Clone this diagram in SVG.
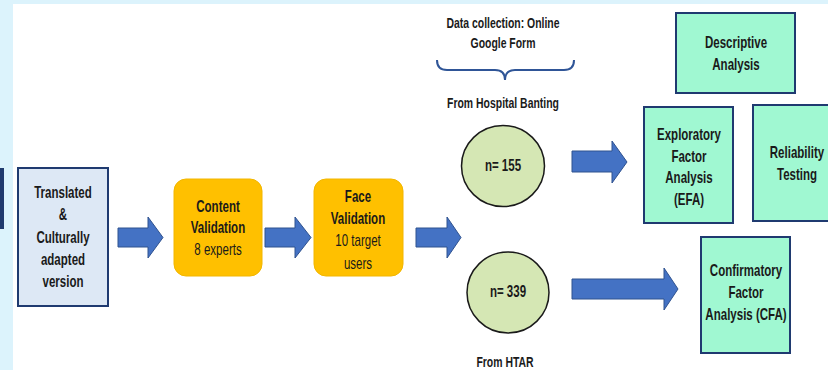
<svg xmlns="http://www.w3.org/2000/svg" width="828" height="370" viewBox="0 0 828 370">
<style>
text{font-family:"Liberation Sans",Arial,sans-serif;font-weight:bold;fill:#1a1a1a;text-anchor:middle;font-size:16px}
.lbl{font-size:14.5px}
.reg{font-weight:normal}
.blk{fill:#4472c4;stroke:#2f528f;stroke-width:1}
.ora{fill:#ffc000;stroke:#f2b600;stroke-width:1}
.mint{fill:#a0f8d2;stroke:#1f3a70;stroke-width:2}
.circ{fill:#d5e7b4;stroke:#1a1a1a;stroke-width:1.5}
</style>
<rect x="0" y="0" width="828" height="370" fill="#dcf3fc"/>
<rect x="13" y="4" width="815" height="366" fill="#ffffff"/>
<rect x="0" y="168" width="4" height="61" fill="#1f3b6e"/>

<g id="connectors">
<polygon class="blk" points="118,228 148,228 148,217 163,237.5 148,258 148,247 118,247"/>
<polygon class="blk" points="265,228 295,228 295,217 311,237.5 295,258 295,247 265,247"/>
<polygon class="blk" points="416,228 447,228 447,217 461,237.5 447,258 447,247 416,247"/>
<polygon class="blk" points="572,151 612,151 612,141 627,162 612,183 612,172 572,172"/>
<polygon class="blk" points="572,279 664,279 664,268 678,289 664,310 664,299 572,299"/>
<path d="M437,60 Q437,70 447,70 L495,70 Q505,70 505,80 Q505,70 515,70 L564,70 Q574,70 574,60" fill="none" stroke="#2f5597" stroke-width="2"/>
</g>

<g id="translated">
<rect x="18" y="168" width="90" height="138" fill="#dde8f5" stroke="#1f3a70" stroke-width="2"/>
<text transform="translate(63,198) scale(0.72,1)">Translated</text>
<text transform="translate(63,220) scale(0.72,1)">&amp;</text>
<text transform="translate(63,243) scale(0.72,1)">Culturally</text>
<text transform="translate(63,265) scale(0.72,1)">adapted</text>
<text transform="translate(63,287) scale(0.72,1)">version</text>
</g>

<g id="content">
<rect class="ora" x="174" y="179" width="88" height="97" rx="12"/>
<text transform="translate(218,212) scale(0.72,1)">Content</text>
<text transform="translate(218,233) scale(0.72,1)">Validation</text>
<text transform="translate(218,255) scale(0.72,1)" class="reg">8 experts</text>
</g>

<g id="face">
<rect class="ora" x="314" y="179" width="89" height="97" rx="12"/>
<text transform="translate(358,202) scale(0.72,1)">Face</text>
<text transform="translate(358,224) scale(0.72,1)">Validation</text>
<text transform="translate(358,246) scale(0.72,1)" class="reg">10 target</text>
<text transform="translate(358,269) scale(0.72,1)" class="reg">users</text>
</g>

<g id="datacollection">
<text class="lbl" transform="translate(503,27.5) scale(0.72,1)">Data collection: Online</text>
<text class="lbl" transform="translate(503,47.5) scale(0.72,1)">Google Form</text>
</g>

<g id="hospital-banting">
<text class="lbl" transform="translate(503,107.5) scale(0.72,1)">From Hospital Banting</text>
<ellipse class="circ" cx="503" cy="166" rx="41.5" ry="40.5"/>
<text transform="translate(503,171) scale(0.72,1)">n= 155</text>
</g>

<g id="htar">
<ellipse class="circ" cx="508" cy="292.5" rx="41" ry="40.5"/>
<text transform="translate(508,297) scale(0.72,1)">n= 339</text>
<text class="lbl" transform="translate(505,366.5) scale(0.72,1)">From HTAR</text>
</g>

<g id="descriptive">
<rect class="mint" x="676" y="13" width="119" height="80"/>
<text transform="translate(736,48) scale(0.72,1)">Descriptive</text>
<text transform="translate(736,70) scale(0.72,1)">Analysis</text>
</g>

<g id="efa">
<rect class="mint" x="644" y="107" width="89" height="116"/>
<text transform="translate(689,140) scale(0.72,1)">Exploratory</text>
<text transform="translate(689,162) scale(0.72,1)">Factor</text>
<text transform="translate(689,183) scale(0.72,1)">Analysis</text>
<text transform="translate(689,205) scale(0.72,1)">(EFA)</text>
</g>

<g id="reliability">
<rect class="mint" x="753" y="105" width="80" height="116"/>
<text transform="translate(797,158) scale(0.72,1)">Reliability</text>
<text transform="translate(797,180) scale(0.72,1)">Testing</text>
</g>

<g id="cfa">
<rect class="mint" x="701" y="237" width="89" height="116"/>
<text transform="translate(746,276) scale(0.72,1)">Confirmatory</text>
<text transform="translate(746,298) scale(0.72,1)">Factor</text>
<text transform="translate(746,320) scale(0.72,1)">Analysis (CFA)</text>
</g>
</svg>
